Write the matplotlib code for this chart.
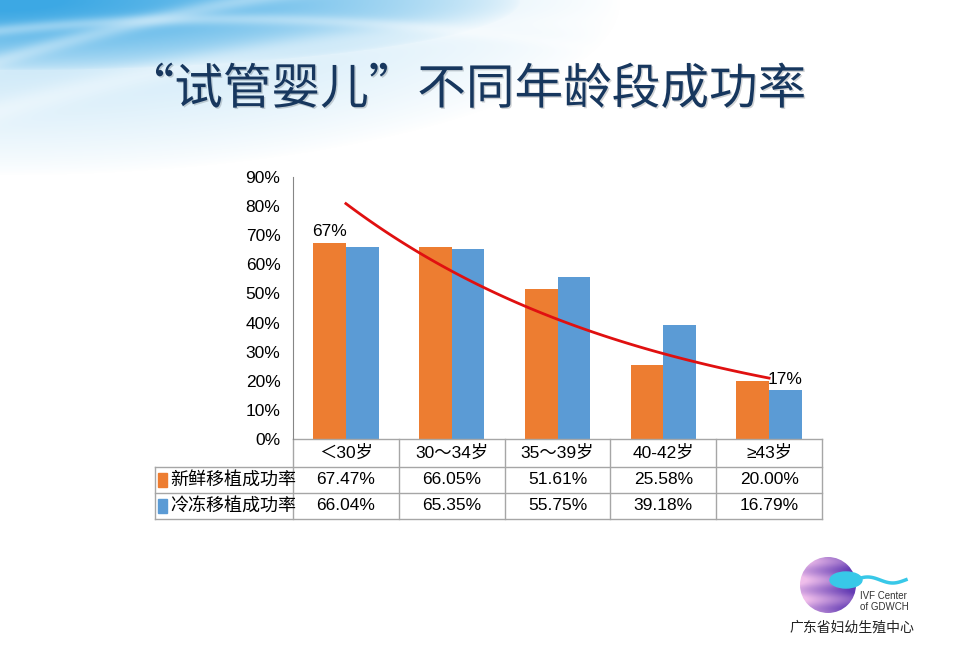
import matplotlib
matplotlib.use("Agg")
import matplotlib.pyplot as plt
import matplotlib.patheffects as pe
import numpy as np
from matplotlib.patches import Rectangle, Circle, Ellipse

plt.rcParams['font.family'] = ['Liberation Sans', 'Noto Sans CJK SC']

# ---------------------------------------------------------------------------
# Data
# ---------------------------------------------------------------------------
TITLE = "“试管婴儿”不同年龄段成功率"
age_groups = ["＜30岁", "30～34岁", "35～39岁", "40-42岁", "≥43岁"]
series_names = ["新鲜移植成功率", "冷冻移植成功率"]
fresh = [67.47, 66.05, 51.61, 25.58, 20.00]
frozen = [66.04, 65.35, 55.75, 39.18, 16.79]
y_ticks = [0, 10, 20, 30, 40, 50, 60, 70, 80, 90]
# only two points carry a data label in the slide
labels_fresh = {0: "67%"}
labels_frozen = {4: "17%"}

ORANGE = "#ED7D31"
BLUE = "#5B9BD5"
RED = "#E01010"
GRID = "#A6A6A6"
NAVY = "#17375E"
FS = 12.5

W, H = 960, 664
fig = plt.figure(figsize=(W / 100, H / 100), dpi=100)

# ---------------------------------------------------------------------------
# Background (pixel coordinates)
# ---------------------------------------------------------------------------
bg = fig.add_axes([0, 0, 1, 1], zorder=-10)
bg.set_xlim(0, W)
bg.set_ylim(H, 0)
bg.axis("off")

yy, xx = np.mgrid[0:H, 0:W].astype(float)
# strong band along the very top, pale wash further down
strong = np.clip(1 - np.sqrt((xx / 520.0) ** 2 + (yy / 70.0) ** 2), 0, 1) ** 0.6
pale = np.clip(1 - np.sqrt((xx / 620.0) ** 2 + (yy / 175.0) ** 2), 0, 1) ** 0.8
glow = np.clip(0.72 * strong + 0.36 * pale, 0, 1)
# faint white swooshes across the blue corner
for c, k, w in [(60, 0.30, 8), (110, 0.28, 12), (30, 0.10, 6)]:
    yc = c - k * xx + 0.00022 * xx ** 2
    glow *= 1 - 0.35 * np.exp(-((yy - yc) / w) ** 2)
blue = np.array([60, 168, 228]) / 255.0
img = 1 - glow[..., None] * (1 - blue)
bg.imshow(img, extent=(0, W, H, 0), aspect="auto", interpolation="bilinear")

bg.text(466, 90, TITLE, ha="center", va="center", fontsize=35, color=NAVY,
        family=["Noto Sans CJK SC"],
        path_effects=[pe.SimplePatchShadow(offset=(1, -1), alpha=0.18),
                      pe.Normal()])

# logo
lx, ly, r = 828, 585, 28
gy, gx = np.mgrid[-1:1:80j, -1:1:80j]
t = np.clip(0.5 + 0.45 * gx + 0.15 * np.sin(gy * 9), 0, 1)
pink = np.array([240, 190, 235]) / 255.0
purple = np.array([100, 60, 180]) / 255.0
logo_img = pink * (1 - t[..., None]) + purple * t[..., None]
im = bg.imshow(logo_img, extent=(lx - r, lx + r, ly + r, ly - r), zorder=2)
im.set_clip_path(Circle((lx, ly), r, transform=bg.transData))
bg.add_patch(Ellipse((846, 580), 32, 16, color="#38C8E8", zorder=3))
tx = np.linspace(855, 906, 50)
bg.plot(tx, 580 - 3 * np.sin((tx - 855) / 8), color="#38C8E8", lw=2.5, zorder=3)
bg.text(860, 596, "IVF Center", fontsize=7, color="#333333", va="center")
bg.text(860, 607, "of GDWCH", fontsize=7, color="#333333", va="center")
bg.text(852, 628, "广东省妇幼生殖中心", fontsize=10, color="#222222", ha="center",
        va="center", family=["Noto Sans CJK SC"], style="italic")

# ---------------------------------------------------------------------------
# Chart
# ---------------------------------------------------------------------------
ax = fig.add_axes([293 / W, 1 - 439 / H, 529 / W, 262 / H])
ax.patch.set_alpha(0)
x = np.arange(len(age_groups))
bw = 0.31
ax.bar(x - bw / 2, fresh, bw, color=ORANGE, zorder=2)
ax.bar(x + bw / 2, frozen, bw, color=BLUE, zorder=2)

for i, s in labels_fresh.items():
    ax.text(x[i] - bw / 2, fresh[i] + 1.2, s, ha="center", va="bottom", fontsize=FS)
for i, s in labels_frozen.items():
    ax.text(x[i] + bw / 2, frozen[i] + 1.2, s, ha="center", va="bottom", fontsize=FS)

# exponential trend line of the fresh series (as Excel draws it)
m, b = np.polyfit(x + 1, np.log(fresh), 1)
xs = np.linspace(0, len(x) - 1, 100)
ax.plot(xs, np.exp(b + m * (xs + 1)), color=RED, lw=2, zorder=3)

ax.set_xlim(-0.5, len(x) - 0.5)
ax.set_ylim(0, 90)
ax.set_yticks(y_ticks)
ax.set_yticklabels([f"{v}%" for v in y_ticks], fontsize=FS)
ax.set_xticks([])
ax.tick_params(axis="y", length=0, pad=9)
for side in ["top", "right", "bottom"]:
    ax.spines[side].set_visible(False)
ax.spines["left"].set_color("#868686")

# ---------------------------------------------------------------------------
# Data table under the axis
# ---------------------------------------------------------------------------
tr = ax.get_xaxis_transform()
px = (len(x)) / 529.0          # data units per pixel
row_edges = [0, -28 / 262, -54 / 262, -80 / 262]
left = -0.5 - 138 * px

ax.plot([-0.5, len(x) - 0.5], [0, 0], color=GRID, lw=1, transform=tr, clip_on=False)
for yv in row_edges[1:]:
    ax.plot([left, len(x) - 0.5], [yv, yv], color=GRID, lw=1, transform=tr, clip_on=False)
for i in range(len(x) + 1):
    ax.plot([i - 0.5, i - 0.5], [0, row_edges[-1]], color=GRID, lw=1,
            transform=tr, clip_on=False)
ax.plot([left, left], [row_edges[1], row_edges[-1]], color=GRID, lw=1,
        transform=tr, clip_on=False)

mid = [(row_edges[k] + row_edges[k + 1]) / 2 for k in range(3)]
for i, g in enumerate(age_groups):
    ax.text(x[i], mid[0], g, ha="center", va="center", fontsize=FS,
            transform=tr, clip_on=False)
for k, (vals, col, name) in enumerate([(fresh, ORANGE, series_names[0]),
                                       (frozen, BLUE, series_names[1])]):
    yc = mid[k + 1]
    for i, v in enumerate(vals):
        ax.text(x[i], yc, f"{v:.2f}%", ha="center", va="center", fontsize=FS,
                transform=tr, clip_on=False)
    ax.add_patch(Rectangle((left + 3 * px, yc - 7 / 262), 9 * px, 14 / 262,
                           color=col, transform=tr, clip_on=False))
    ax.text(left + 15 * px, yc, name, ha="left", va="center", fontsize=13,
            family=["Noto Sans CJK SC"], transform=tr, clip_on=False)

fig.savefig("out.png", dpi=100)
